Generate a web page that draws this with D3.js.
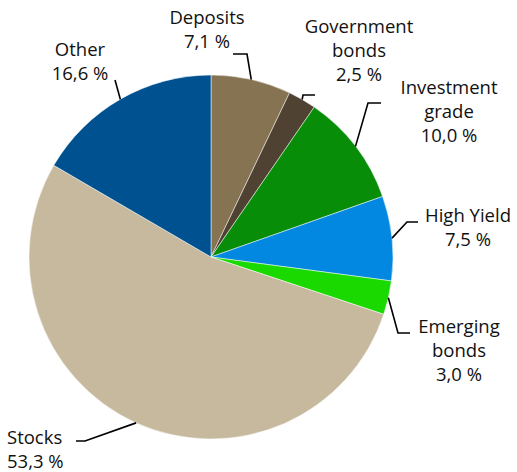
<!DOCTYPE html>
<html><head><meta charset="utf-8">
<script src="https://cdn.jsdelivr.net/npm/d3@7"></script>
<style>body{margin:0;background:#fff}</style>
</head><body>
<svg id="c" width="517" height="472"></svg>
<script>
const categories = ["Deposits","Government bonds","Investment grade","High Yield","Emerging bonds","Stocks","Other"];
const values = [7.1, 2.5, 10.0, 7.5, 3.0, 53.3, 16.6];
const valueLabels = ["7,1 %","2,5 %","10,0 %","7,5 %","3,0 %","53,3 %","16,6 %"];
const labelLines = [["Deposits"],["Government","bonds"],["Investment","grade"],["High Yield"],["Emerging","bonds"],["Stocks"],["Other"]];
const colors = ["#857352","#4f4232","#078d07","#0288e0","#1ad900","#c6b99e","#00518f"];

// layout: label anchor (x, first-line y, anchor) and leader elbow/end points
const layout = [
  {x:207, y:18, anchor:"middle", pts:[[247,54],[233,54]]},
  {x:359, y:27, anchor:"middle", pts:[[303,95],[315,95]]},
  {x:449, y:88, anchor:"middle", pts:[[368,103],[381,103]]},
  {x:468, y:216, anchor:"middle", pts:[[407,222],[418,222]]},
  {x:459, y:327, anchor:"middle", pts:[[398,333],[410,333]]},
  {x:7, y:438, anchor:"start", pts:[[85,441],[76,441]]},
  {x:80, y:50, anchor:"middle", pts:[[115,80]]}
];

const svg = d3.select("#c");
const cx = 211, cy = 257, R = 182;
const g = svg.append("g").attr("transform", `translate(${cx},${cy})`);
const data = categories.map((c,i)=>({c, v:values[i], i}));
const pie = d3.pie().value(d=>d.v).sort(null);
const arc = d3.arc().innerRadius(0).outerRadius(R);
const arcs = pie(data);
g.selectAll("path").data(arcs).join("path")
  .attr("d", arc).attr("fill", d=>colors[d.data.i])
  .attr("stroke","#fff").attr("stroke-width",0.5);

const font = "'Open Sans', sans-serif";
arcs.forEach(a=>{
  const i = a.data.i, L = layout[i];
  const mid = (a.startAngle + a.endAngle)/2;
  const sx = cx + R*Math.sin(mid), sy = cy - R*Math.cos(mid);
  const pts = [[sx,sy], ...L.pts];
  svg.append("path").attr("d", d3.line()(pts))
    .attr("fill","none").attr("stroke","#000").attr("stroke-width",1.6);
  const lines = [...labelLines[i], valueLabels[i]];
  const t = svg.append("text").attr("font-family", font).attr("font-size",18.5)
    .attr("fill","#111").attr("text-anchor", L.anchor);
  lines.forEach((s,k)=>{
    t.append("tspan").attr("x", L.x).attr("y", L.y + k*24).attr("dy","0.35em").text(s);
  });
});
</script>
</body></html>
